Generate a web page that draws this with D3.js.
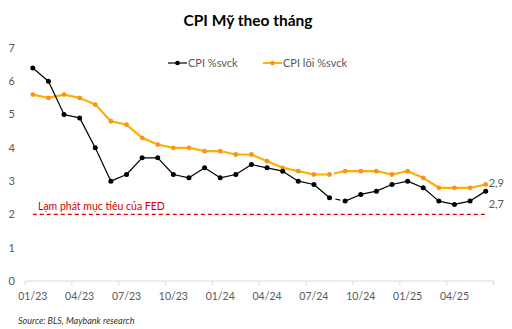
<!DOCTYPE html>
<html><head><meta charset="utf-8">
<script src="https://cdn.jsdelivr.net/npm/d3@7"></script>
<style>
html,body{margin:0;padding:0;background:#fff;}
svg{display:block;font-family:"Lato","Open Sans",sans-serif;}
</style></head>
<body>
<svg id="c" width="512" height="329"></svg>
<script>
const months = ["01/23","02/23","03/23","04/23","05/23","06/23","07/23","08/23","09/23","10/23","11/23","12/23",
"01/24","02/24","03/24","04/24","05/24","06/24","07/24","08/24","09/24","10/24","11/24","12/24",
"01/25","02/25","03/25","04/25","05/25","06/25"];
const cpi = [6.4,6.0,5.0,4.9,4.0,3.0,3.2,3.7,3.7,3.2,3.1,3.4,3.1,3.2,3.5,3.4,3.3,3.0,2.9,2.5,2.4,2.6,2.7,2.9,3.0,2.8,2.4,2.3,2.4,2.7];
const core = [5.6,5.5,5.6,5.5,5.3,4.8,4.7,4.3,4.1,4.0,4.0,3.9,3.9,3.8,3.8,3.6,3.4,3.3,3.2,3.2,3.3,3.3,3.3,3.2,3.3,3.1,2.8,2.8,2.8,2.9];
const yTicks = [0,1,2,3,4,5,6,7];
const xLabels = ["01/23","04/23","07/23","10/23","01/24","04/24","07/24","10/24","01/25","04/25"];
const target = 2;
const gapIndex = 19; // segment between 08/24 and 09/24 drawn broken

const svg = d3.select("#c");
const x = d3.scaleBand().domain(months).range([25, 493.5]);
const cx = d => x(d) + x.bandwidth()/2;
const y = d3.scaleLinear().domain([0,7]).range([281,48]);

// title
svg.append("text").attr("x",248).attr("y",26).attr("text-anchor","middle")
  .attr("font-size",15.5).attr("font-weight","bold").attr("fill","#000").text("CPI Mỹ theo tháng");

// y labels
svg.append("g").selectAll("text").data(yTicks).join("text")
  .attr("x",15).attr("y",d=>y(d)).attr("dy","0.35em").attr("text-anchor","end")
  .attr("font-size",11).attr("fill","#595959").text(d=>d);

// x axis line
svg.append("line").attr("x1",x.range()[0]).attr("x2",x.range()[1]).attr("y1",y(0)).attr("y2",y(0))
  .attr("stroke","#d9d9d9").attr("stroke-width",1);
const tickBounds = months.filter((m,i)=>i%3===0).map(m=>x(m)).concat([x.range()[1]]);
svg.append("g").selectAll("line").data(tickBounds).join("line")
  .attr("x1",d=>d).attr("x2",d=>d).attr("y1",y(0)).attr("y2",y(0)+4)
  .attr("stroke","#d9d9d9");
svg.append("g").selectAll("text").data(xLabels).join("text")
  .attr("x",d=>cx(d)).attr("y",y(0)+15).attr("dy","0.35em").attr("text-anchor","middle")
  .attr("font-size",10.5).attr("fill","#595959").text(d=>d);

// target line
svg.append("line").attr("x1",cx(months[0])).attr("x2",cx(months[months.length-1]))
  .attr("y1",y(target)).attr("y2",y(target))
  .attr("stroke","#e00000").attr("stroke-width",1.2).attr("stroke-dasharray","4,3");
svg.append("text").attr("x",38).attr("y",y(target)-4).attr("font-size",10.5).attr("fill","#d40000")
  .text("Lạm phát mục tiêu của FED");

function drawSeries(vals, lineColor, markerColor, width, r, gapDash){
  const pts = vals.map((v,i)=>[cx(months[i]), y(v)]);
  const line = d3.line();
  svg.append("path").attr("d", line(pts.slice(0,gapIndex+1))).attr("fill","none")
    .attr("stroke",lineColor).attr("stroke-width",width).attr("stroke-linejoin","round");
  svg.append("path").attr("d", line(pts.slice(gapIndex,gapIndex+2))).attr("fill","none")
    .attr("stroke",lineColor).attr("stroke-width",width).attr("stroke-dasharray",gapDash);
  svg.append("path").attr("d", line(pts.slice(gapIndex+1))).attr("fill","none")
    .attr("stroke",lineColor).attr("stroke-width",width).attr("stroke-linejoin","round");
  svg.append("g").selectAll("circle").data(pts).join("circle")
    .attr("cx",d=>d[0]).attr("cy",d=>d[1]).attr("r",r).attr("fill",markerColor);
}
drawSeries(core, "#ffb000", "#f7931e", 2.2, 2.4, "0,4.5,30");
drawSeries(cpi, "#000", "#000", 1.2, 2.5, "0,6,5,30");

// end labels
svg.append("text").attr("x",cx(months[29])+3).attr("y",y(core[29])-1).attr("dy","0.35em")
  .attr("font-size",11).attr("fill","#595959").text(String(core[29]).replace(".",","));
svg.append("text").attr("x",cx(months[29])+3).attr("y",y(cpi[29])+13).attr("dy","0.35em")
  .attr("font-size",11).attr("fill","#595959").text(String(cpi[29]).replace(".",","));

// legend
const leg = [{name:"CPI %svck", lc:"#000", mc:"#000", w:1.2, x:168},
             {name:"CPI lõi %svck", lc:"#ffb000", mc:"#f7931e", w:2, x:263}];
const lg = svg.append("g").selectAll("g").data(leg).join("g");
lg.append("line").attr("x1",d=>d.x).attr("x2",d=>d.x+19).attr("y1",63).attr("y2",63)
  .attr("stroke",d=>d.lc).attr("stroke-width",d=>d.w);
lg.append("circle").attr("cx",d=>d.x+9.5).attr("cy",63).attr("r",2.3).attr("fill",d=>d.mc);
lg.append("text").attr("x",d=>d.x+20).attr("y",63).attr("dy","0.35em").attr("font-size",11)
  .attr("fill","#595959").text(d=>d.name);

// source
svg.append("text").attr("x",18).attr("y",321).attr("dy","0.35em").attr("font-size",9)
  .attr("font-style","italic").attr("fill","#333").text("Source: BLS, Maybank research");
</script>
</body></html>
